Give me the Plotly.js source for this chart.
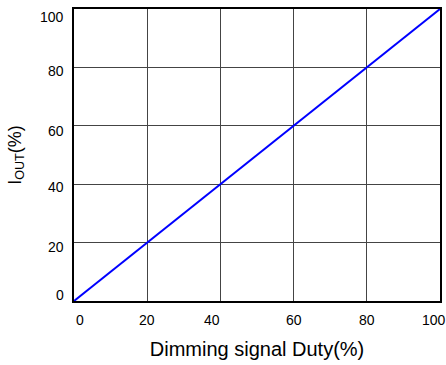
<!DOCTYPE html>
<html><head><meta charset="utf-8">
<script src="https://cdn.plot.ly/plotly-3.0.1.min.js"></script>
<style>body{margin:0;background:#fff}</style>
</head><body>
<div id="chart" style="width:446px;height:365px"></div>
<script>
const duty = [0, 20, 40, 60, 80, 100];
const iout = [0, 20, 40, 60, 80, 100];
const tickVals = [0, 20, 40, 60, 80, 100];
const tickText = ['0', '20', '40', '60', '80', '100'];

// small label nudges as in the reference artwork (style only)
const xShift = [6, 0, -8, 0, 0, -6];
const yShift = [6, -4, -3, -5, -4, -8];

const annotations = [];
tickVals.forEach((v, i) => {
  annotations.push({
    x: v, y: 0, xref: 'x', yref: 'y', text: tickText[i], showarrow: false,
    xanchor: 'center', yanchor: 'middle', xshift: xShift[i], yshift: -19,
    font: {size: 14, color: '#000'}
  });
  annotations.push({
    x: 0, y: v, xref: 'x', yref: 'y', text: tickText[i], showarrow: false,
    xanchor: 'right', yanchor: 'middle', xshift: -8, yshift: yShift[i],
    font: {size: 14, color: '#000'}
  });
});

Plotly.newPlot('chart', [{
  x: duty, y: iout, type: 'scatter', mode: 'lines',
  line: {color: '#0000ff', width: 2}, hoverinfo: 'skip'
}], {
  width: 446, height: 365,
  margin: {l: 74, r: 6, t: 9, b: 64},
  paper_bgcolor: '#fff', plot_bgcolor: '#fff',
  font: {family: 'Liberation Sans, Arial, sans-serif', size: 14, color: '#000'},
  showlegend: false,
  annotations: annotations,
  xaxis: {
    range: [0, 100], tickvals: tickVals, showticklabels: false,
    showgrid: true, gridcolor: '#444', gridwidth: 1,
    showline: true, linecolor: '#000', linewidth: 2, mirror: true,
    zeroline: false, ticks: '',
    title: {text: 'Dimming signal Duty(%)', font: {size: 20}, standoff: 40}
  },
  yaxis: {
    range: [0, 100], tickvals: tickVals, showticklabels: false,
    showgrid: true, gridcolor: '#444', gridwidth: 1,
    showline: true, linecolor: '#000', linewidth: 2, mirror: true,
    zeroline: false, ticks: '',
    title: {text: 'I<sub>OUT</sub>(%)', font: {size: 18}, standoff: 46}
  }
}, {staticPlot: true});
</script>
</body></html>
